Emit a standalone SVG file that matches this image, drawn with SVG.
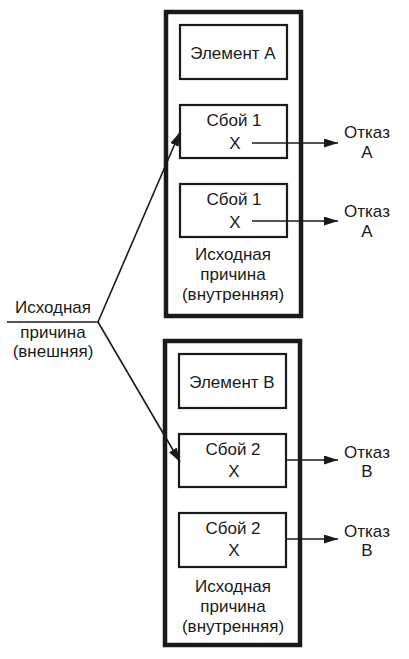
<svg xmlns="http://www.w3.org/2000/svg" width="409" height="659" viewBox="0 0 409 659">
<defs>
<marker id="ah" markerWidth="14" markerHeight="9" refX="14" refY="4.5" orient="auto" markerUnits="userSpaceOnUse">
<path d="M0,0 L14,4.5 L0,9 Z" fill="#1a1a1a"/>
</marker>
</defs>
<style>
text{font-family:"Liberation Sans",Arial,sans-serif;font-size:17px;fill:#1a1a1a;text-anchor:middle}
.outer{fill:#fff;stroke:#1a1a1a;stroke-width:4.5}
.inner{fill:#fff;stroke:#1a1a1a;stroke-width:2.2}
.conn{fill:none;stroke:#1a1a1a;stroke-width:1.6}
</style>
<rect width="409" height="659" fill="#fff"/>
<g id="groupA">
<rect class="outer" x="166" y="12" width="135" height="304"/>
<text x="233" y="260">Исходная</text>
<text x="233" y="280">причина</text>
<text x="233" y="300">(внутренняя)</text>
</g>
<g id="elemA"><rect class="inner" x="180" y="25" width="107" height="54"/><text x="233" y="59">Элемент А</text></g>
<g id="fail1a"><rect class="inner" x="180" y="105" width="107" height="53"/><text x="234" y="126">Сбой 1</text><text x="235" y="149">X</text></g>
<g id="fail1b"><rect class="inner" x="180" y="184" width="107" height="53"/><text x="234" y="205">Сбой 1</text><text x="235" y="228">X</text></g>
<g id="outA1"><text x="367" y="138">Отказ</text><text x="367" y="158">А</text></g>
<g id="outA2"><text x="367" y="217">Отказ</text><text x="367" y="237">А</text></g>
<g id="groupB">
<rect class="outer" x="165" y="341" width="135" height="304"/>
<text x="233" y="592">Исходная</text>
<text x="233" y="612">причина</text>
<text x="233" y="632">(внутренняя)</text>
</g>
<g id="elemB"><rect class="inner" x="179" y="354" width="107" height="54"/><text x="232" y="388">Элемент В</text></g>
<g id="fail2a"><rect class="inner" x="179" y="434" width="107" height="53"/><text x="233" y="455">Сбой 2</text><text x="234" y="477">X</text></g>
<g id="fail2b"><rect class="inner" x="179" y="513" width="107" height="54"/><text x="233" y="534">Сбой 2</text><text x="234" y="556">X</text></g>
<g id="outB1"><text x="367" y="458">Отказ</text><text x="367" y="477">В</text></g>
<g id="outB2"><text x="367" y="537">Отказ</text><text x="367" y="556">В</text></g>
<g id="ext">
<text x="53" y="313">Исходная</text>
<text x="53" y="338">причина</text>
<text x="53" y="357">(внешняя)</text>
</g>
<g id="connectors">
<path class="conn" d="M7,322 L98,322"/>
<path class="conn" d="M98,322 L180,132" marker-end="url(#ah)"/>
<path class="conn" d="M98,322 L180,462" marker-end="url(#ah)"/>
<path class="conn" d="M252,143 L338,143" marker-end="url(#ah)"/>
<path class="conn" d="M252,221 L338,221" marker-end="url(#ah)"/>
<path class="conn" d="M286,460 L338,460" marker-end="url(#ah)"/>
<path class="conn" d="M286,539 L338,539" marker-end="url(#ah)"/>
</g>
</svg>
